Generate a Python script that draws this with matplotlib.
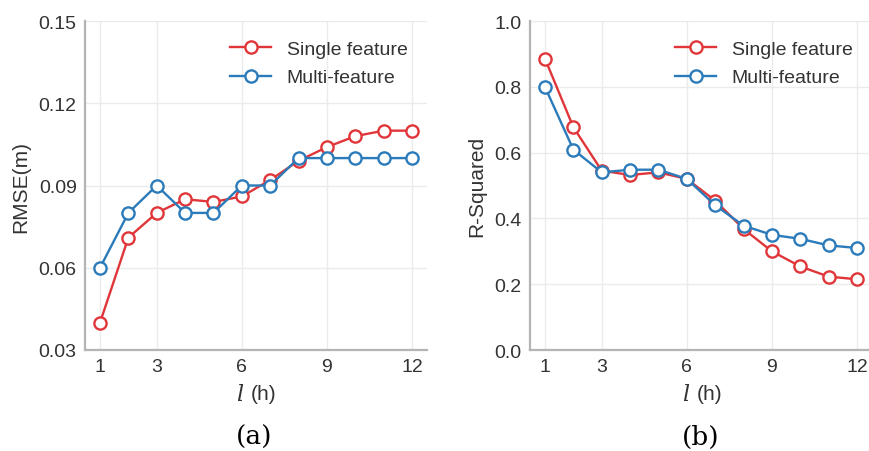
import matplotlib
matplotlib.use("Agg")
import matplotlib.pyplot as plt

hours = [1, 2, 3, 4, 5, 6, 7, 8, 9, 10, 11, 12]
rmse_single = [0.040, 0.071, 0.080, 0.085, 0.084, 0.086, 0.092, 0.099, 0.104, 0.108, 0.110, 0.110]
rmse_multi = [0.060, 0.080, 0.090, 0.080, 0.080, 0.090, 0.090, 0.100, 0.100, 0.100, 0.100, 0.100]
r2_single = [0.885, 0.677, 0.545, 0.532, 0.540, 0.520, 0.454, 0.368, 0.300, 0.254, 0.223, 0.215]
r2_multi = [0.799, 0.609, 0.540, 0.548, 0.548, 0.520, 0.440, 0.378, 0.350, 0.338, 0.318, 0.310]
xticks = [1, 3, 6, 9, 12]
rmse_ticks = [0.03, 0.06, 0.09, 0.12, 0.15]
r2_ticks = [0.0, 0.2, 0.4, 0.6, 0.8, 1.0]
labels = ["Single feature", "Multi-feature"]

RED = "#e0363a"
BLUE = "#2b7bba"
plt.rcParams['font.family'] = ['Liberation Sans', 'DejaVu Sans']

fig = plt.figure(figsize=(8.7, 4.52), dpi=100)
ax1 = fig.add_axes([85/870, 1-351/452, 342/870, 329/452])
ax2 = fig.add_axes([530/870, 1-351/452, 342/870, 329/452])

def style(ax, ylab, yt, fmt):
    ax.set_facecolor("white")
    ax.grid(True, color="#ebebeb", linewidth=1.0)
    ax.set_axisbelow(True)
    for s in ["top", "right"]:
        ax.spines[s].set_visible(False)
    for s in ["left", "bottom"]:
        ax.spines[s].set_color("#b4b4b4")
        ax.spines[s].set_linewidth(1.6)
    ax.tick_params(length=0, labelsize=14, labelcolor="#333333", pad=6)
    ax.set_xticks(xticks)
    ax.set_xlim(0.47, 12.53)
    ax.set_yticks(yt)
    ax.set_yticklabels([fmt.format(v) for v in yt])
    ax.set_ylabel(ylab, fontsize=15, color="#333333", labelpad=6)

for ax, s1, s2, ylab, yt, fmt, ylim in [
    (ax1, rmse_single, rmse_multi, "RMSE(m)", rmse_ticks, "{:.2f}", (0.03, 0.15)),
    (ax2, r2_single, r2_multi, "R-Squared", r2_ticks, "{:.1f}", (0.0, 1.0)),
]:
    ax.plot(hours, s1, color=RED, marker="o", markersize=8.8, markerfacecolor="white",
            markeredgewidth=1.7, linewidth=1.7, label=labels[0])
    ax.plot(hours, s2, color=BLUE, marker="o", markersize=8.8, markerfacecolor="white",
            markeredgewidth=1.7, linewidth=1.7, label=labels[1])
    style(ax, ylab, yt, fmt)
    ax.set_ylim(*ylim)
    ax.legend(loc="upper right", frameon=False, fontsize=14, handlelength=2.1,
              labelspacing=0.55, borderaxespad=0.6, handletextpad=0.8, labelcolor="#333333")

# x-axis labels with italic l
for cx in [256, 702]:
    fig.text((cx - 16)/870, 1 - 395/452, "l", fontsize=16, style="italic", color="#333333",
             ha="center", va="center", family="DejaVu Serif")
    fig.text((cx + 8)/870, 1 - 395/452, "(h)", fontsize=15, color="#333333",
             ha="center", va="center")

fig.text(254/870, 2/452, "(a)", fontsize=19, family="DejaVu Serif", ha="center", va="bottom")
fig.text(701/870, 2/452, "(b)", fontsize=19, family="DejaVu Serif", ha="center", va="bottom")

fig.savefig("out.png", dpi=100)
